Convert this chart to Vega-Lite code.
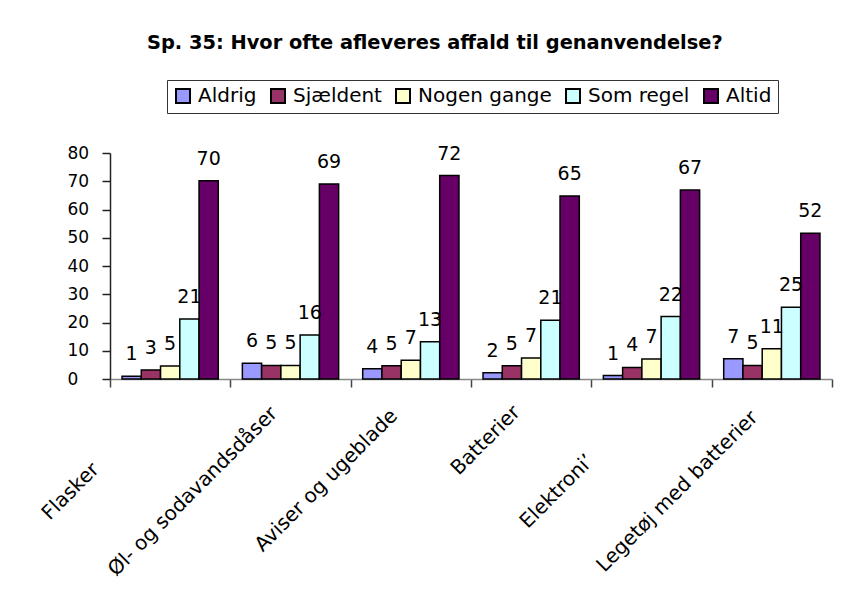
{
  "$schema": "https://vega.github.io/schema/vega-lite/v6.json",
  "autosize": {"type": "none"},
  "width": 722,
  "height": 226,
  "padding": {"left": 110, "top": 153, "right": 11, "bottom": 224},
  "background": "white",
  "config": {
    "font": "DejaVu Sans",
    "view": {"stroke": null}
  },
  "title": {
    "text": "Sp. 35: Hvor ofte afleveres affald til genanvendelse?",
    "font": "DejaVu Sans",
    "fontSize": 19.4,
    "fontWeight": "bold",
    "color": "black",
    "anchor": "start",
    "frame": "group",
    "dx": 37,
    "baseline": "alphabetic",
    "offset": 11
  },
  "data": {
    "values": [
      {"kategori": "Flasker", "svar": "Aldrig", "procent": 1.0},
      {"kategori": "Flasker", "svar": "Sjældent", "procent": 3.2},
      {"kategori": "Flasker", "svar": "Nogen gange", "procent": 4.6},
      {"kategori": "Flasker", "svar": "Som regel", "procent": 21.2},
      {"kategori": "Flasker", "svar": "Altid", "procent": 70.2},
      {"kategori": "Øl- og sodavandsdåser", "svar": "Aldrig", "procent": 5.6},
      {"kategori": "Øl- og sodavandsdåser", "svar": "Sjældent", "procent": 4.8},
      {"kategori": "Øl- og sodavandsdåser", "svar": "Nogen gange", "procent": 4.8},
      {"kategori": "Øl- og sodavandsdåser", "svar": "Som regel", "procent": 15.6},
      {"kategori": "Øl- og sodavandsdåser", "svar": "Altid", "procent": 69.0},
      {"kategori": "Aviser og ugeblade", "svar": "Aldrig", "procent": 3.6},
      {"kategori": "Aviser og ugeblade", "svar": "Sjældent", "procent": 4.7},
      {"kategori": "Aviser og ugeblade", "svar": "Nogen gange", "procent": 6.6},
      {"kategori": "Aviser og ugeblade", "svar": "Som regel", "procent": 13.2},
      {"kategori": "Aviser og ugeblade", "svar": "Altid", "procent": 72.0},
      {"kategori": "Batterier", "svar": "Aldrig", "procent": 2.2},
      {"kategori": "Batterier", "svar": "Sjældent", "procent": 4.7},
      {"kategori": "Batterier", "svar": "Nogen gange", "procent": 7.4},
      {"kategori": "Batterier", "svar": "Som regel", "procent": 20.8},
      {"kategori": "Batterier", "svar": "Altid", "procent": 64.8},
      {"kategori": "Elektronik", "svar": "Aldrig", "procent": 1.2},
      {"kategori": "Elektronik", "svar": "Sjældent", "procent": 4.1},
      {"kategori": "Elektronik", "svar": "Nogen gange", "procent": 7.1},
      {"kategori": "Elektronik", "svar": "Som regel", "procent": 22.1},
      {"kategori": "Elektronik", "svar": "Altid", "procent": 66.9},
      {"kategori": "Legetøj med batterier", "svar": "Aldrig", "procent": 7.2},
      {"kategori": "Legetøj med batterier", "svar": "Sjældent", "procent": 4.8},
      {"kategori": "Legetøj med batterier", "svar": "Nogen gange", "procent": 10.7},
      {"kategori": "Legetøj med batterier", "svar": "Som regel", "procent": 25.4},
      {"kategori": "Legetøj med batterier", "svar": "Altid", "procent": 51.6}
    ]
  },
  "encoding": {
    "x": {
      "field": "kategori",
      "type": "nominal",
      "sort": ["Flasker", "Øl- og sodavandsdåser", "Aviser og ugeblade", "Batterier", "Elektronik", "Legetøj med batterier"],
      "scale": {"paddingInner": 0, "paddingOuter": 0},
      "axis": {
        "title": null,
        "tickBand": "extent",
        "labelExpr": "datum.value == 'Elektronik' ? 'Elektroni\u2019' : datum.value",
        "labelAngle": -45,
        "labelAlign": "center",
        "labelBaseline": "middle",
        "labelFontSize": 20,
        "labelColor": "black",
        "labelLimit": 400,
        "labelOffset": {
          "condition": [
            {"test": "datum.value === 'Flasker'", "value": -100},
            {"test": "datum.value === 'Øl- og sodavandsdåser'", "value": -98},
            {"test": "datum.value === 'Aviser og ugeblade'", "value": -85},
            {"test": "datum.value === 'Batterier'", "value": -46}
          ],
          "value": -95
        },
        "labelPadding": {
          "condition": [
            {"test": "datum.value === 'Aviser og ugeblade'", "value": 93},
            {"test": "datum.value === 'Batterier'", "value": 53}
          ],
          "value": 104
        },
        "domainColor": "#888888",
        "domainWidth": 1.5,
        "tickColor": "#444444",
        "tickSize": 8,
        "tickWidth": 1.5,
        "labelOverlap": false
      }
    },
    "xOffset": {
      "field": "svar",
      "type": "nominal",
      "sort": ["Aldrig", "Sjældent", "Nogen gange", "Som regel", "Altid"],
      "scale": {"paddingInner": 0, "paddingOuter": 0.625}
    },
    "y": {
      "field": "procent",
      "type": "quantitative",
      "scale": {"domain": [0, 80], "nice": false},
      "axis": {
        "title": null,
        "values": [0, 10, 20, 30, 40, 50, 60, 70, 80],
        "grid": false,
        "labelFontSize": 17,
        "labelColor": "black",
        "labelAlign": "left",
        "labelPadding": 35,
        "domainColor": "#222222",
        "domainWidth": 1.5,
        "tickColor": "#222222",
        "tickSize": 8,
        "tickWidth": 1.5
      }
    }
  },
  "layer": [
    {
      "mark": {"type": "bar", "stroke": "black", "strokeWidth": 1.5},
      "encoding": {
        "color": {
          "field": "svar",
          "type": "nominal",
          "sort": ["Aldrig", "Sjældent", "Nogen gange", "Som regel", "Altid"],
          "scale": {"range": ["#9999FF", "#993366", "#FFFFCC", "#CCFFFF", "#660066"]},
          "legend": {
            "title": null,
            "orient": "none",
            "direction": "horizontal",
            "legendX": 57,
            "legendY": -73,
            "symbolType": "square",
            "symbolSize": 196,
            "symbolStrokeColor": "black",
            "symbolStrokeWidth": 2,
            "symbolOpacity": 1,
            "labelFontSize": 20,
            "labelColor": "black",
            "labelOffset": 5,
            "columnPadding": 10,
            "strokeColor": "#333333",
            "fillColor": "white",
            "padding": 6
          }
        }
      }
    },
    {
      "mark": {"type": "text", "fontSize": 19, "baseline": "alphabetic", "dy": -16, "color": "black"},
      "encoding": {
        "text": {"field": "procent", "type": "quantitative", "format": ".0f"}
      }
    }
  ]
}
